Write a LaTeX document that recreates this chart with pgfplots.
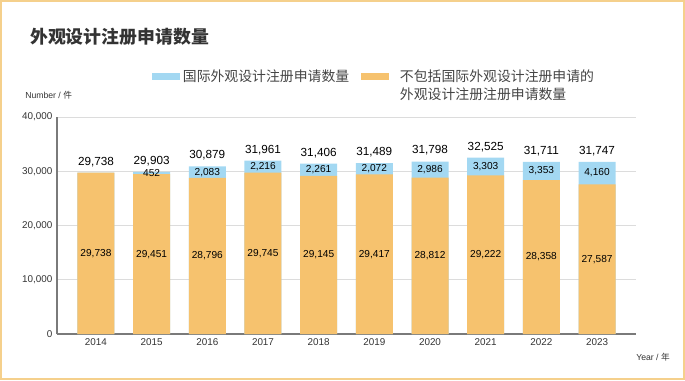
\documentclass[border=0pt]{standalone}
\usepackage{pgfplots}
\pgfplotsset{compat=1.18}
\usepackage{pgfplotstable}
\usepackage{fontspec}
\setmainfont{Liberation Sans}
\newfontfamily\cjk{Noto Sans CJK SC}
\definecolor{orangebar}{HTML}{F6C26E}
\definecolor{bluebar}{HTML}{A3D8F2}
\definecolor{framecol}{HTML}{F5D08C}
\definecolor{gridcol}{HTML}{DCDCDC}
\definecolor{axiscol}{HTML}{7A7A7A}
\definecolor{txt}{HTML}{333333}
\definecolor{legtxt}{HTML}{444444}

\pgfplotsset{boxlegend/.style={legend image code/.code={\fill[##1,draw=none] (0pt,1.3pt) rectangle (21pt,6.5pt);}}}

\pgfplotstableread{
x year dom intl total
0 2014 29738 0 29738
1 2015 29451 452 29903
2 2016 28796 2083 30879
3 2017 29745 2216 31961
4 2018 29145 2261 31406
5 2019 29417 2072 31489
6 2020 28812 2986 31798
7 2021 29222 3303 32525
8 2022 28358 3353 31711
9 2023 27587 4160 31747
}\data

\begin{document}
\begin{tikzpicture}
\useasboundingbox (0,0) rectangle (513.75pt,285pt);
\draw[framecol, line width=1.5pt] (0.75pt,0.75pt) rectangle (513pt,284.25pt);
\node[anchor=west, font=\cjk\bfseries\fontsize{13.4}{16}\selectfont, text=txt, inner sep=0pt] at (22.5pt,257.25pt) {外观设计注册申请数量};
\node[anchor=west, font=\fontsize{6.5}{8}\selectfont, text=txt, inner sep=0pt] at (18.75pt,213.75pt) {Number / {\cjk 件}};
\node[anchor=west, font=\fontsize{6.5}{8}\selectfont, text=txt, inner sep=0pt] at (477pt,17.25pt) {Year / {\cjk 年}};
\begin{axis}[
  at={(42.75pt,34.5pt)}, anchor=south west,
  scale only axis, width=434.25pt, height=162.75pt,
  xmin=-0.7, xmax=9.7, ymin=0, ymax=40000,
  axis x line=bottom, axis y line=left,
  axis line style={axiscol,-, line width=0.8pt},
  ytick={0,10000,20000,30000,40000},
  xtick={0,...,9},
  xticklabels={2014,2015,2016,2017,2018,2019,2020,2021,2022,2023},
  ymajorgrids, grid style={gridcol, line width=0.7pt},
  major tick length=0pt,
  scaled y ticks=false,
  /pgf/number format/.cd, fixed, precision=0, 1000 sep={,}, assume math mode=true, /pgfplots/.cd,
  tick label style={font=\fontsize{7.4}{9}\selectfont, text=txt},
  legend columns=2,
  legend style={at={(0.164,1.235)}, anchor=north west, draw=none, fill=none, inner sep=0pt,
    font=\cjk\fontsize{10.4}{13.5}\selectfont, text=legtxt,
    cells={anchor=base west},
    /tikz/every even column/.append style={column sep=7pt}},
]
\addplot[ybar, bar width=27.75pt, bar shift=0pt, fill=bluebar, draw=none, boxlegend] table[x=x,y=total]{\data};
\addlegendentry{国际外观设计注册申请数量}
\addplot[ybar, bar width=27.75pt, bar shift=0pt, fill=orangebar, draw=none, boxlegend] table[x=x,y=dom]{\data};
\addlegendentry{\hspace{6pt}\begin{tabular}[t]{@{}l@{}}不包括国际外观设计注册申请的\\外观设计注册注册申请数量\end{tabular}}
% labels inside orange bars
\addplot[draw=none, mark=none, forget plot, nodes near coords, point meta=explicit,
  every node near coord/.append style={anchor=center, font=\fontsize{7.6}{9}\selectfont, text=black}]
  table[x=x, y expr=\thisrow{dom}/2, meta=dom]{\data};
% labels inside blue segments
\addplot[draw=none, mark=none, forget plot, nodes near coords, point meta=explicit,
  skip coords between index={0}{1},
  every node near coord/.append style={anchor=center, font=\fontsize{7.6}{9}\selectfont, text=black}]
  table[x=x, y expr=\thisrow{dom}+\thisrow{intl}/2, meta=intl]{\data};
% totals
\addplot[draw=none, mark=none, forget plot, nodes near coords, point meta=explicit,
  every node near coord/.append style={anchor=south, yshift=1pt, font=\fontsize{8.8}{10}\selectfont, text=black}]
  table[x=x, y=total, meta=total]{\data};
\end{axis}
\end{tikzpicture}
\end{document}
